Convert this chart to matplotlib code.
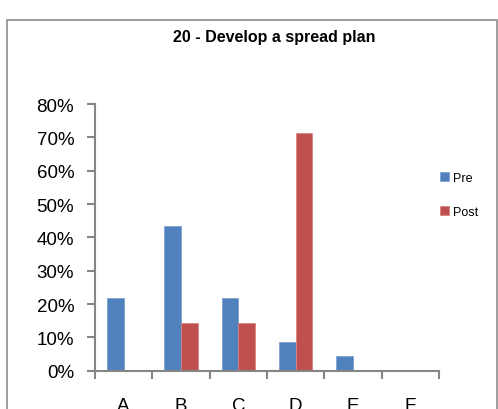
import matplotlib
matplotlib.use("Agg")
import matplotlib.pyplot as plt
from matplotlib.patches import Rectangle
from matplotlib.ticker import FuncFormatter
import numpy as np

categories = ["A", "B", "C", "D", "E", "F"]
pre = [0.217, 0.435, 0.217, 0.087, 0.043, 0.0]
post = [0.0, 0.143, 0.143, 0.714, 0.0, 0.0]
y_ticks = [0.0, 0.1, 0.2, 0.3, 0.4, 0.5, 0.6, 0.7, 0.8]
title = "20 - Develop a spread plan"

plt.rcParams["font.family"] = ["Liberation Sans", "DejaVu Sans"]

W, H = 498, 410
fig = plt.figure(figsize=(W / 100, H / 100), dpi=100)
fig.patch.set_facecolor("white")

# outer chart border
fig.patches.append(Rectangle((7 / W, -0.1), (497 - 7) / W, (H - 21) / H + 0.1,
                             transform=fig.transFigure, fill=False,
                             edgecolor="#8c8c8c", linewidth=1.2, clip_on=False))

ax = fig.add_axes([95 / W, (H - 371.7) / H, (439 - 95) / W, (371.7 - 105) / H])

x = np.arange(len(categories))
bw = 0.29
blue = "#4F81BD"
red = "#C0504D"
ax.bar(x - bw / 2, pre, width=bw, color=blue, edgecolor="#7fa3d0", linewidth=0.6, label="Pre")
ax.bar(x + bw / 2, post, width=bw, color=red, edgecolor="#d98583", linewidth=0.6, label="Post")

ax.set_xlim(-0.5, len(categories) - 0.5)
ax.set_ylim(0, 0.8)
ax.set_yticks(y_ticks)
ax.yaxis.set_major_formatter(FuncFormatter(lambda v, p: f"{v * 100:.0f}%"))
ax.set_xticks(np.arange(len(categories) + 1) - 0.5)
ax.set_xticklabels([])
ax.set_xticks(x, minor=True)
ax.set_xticklabels(categories, minor=True)

axis_color = "#868686"
for side in ["top", "right"]:
    ax.spines[side].set_visible(False)
for side in ["left", "bottom"]:
    ax.spines[side].set_color(axis_color)
    ax.spines[side].set_linewidth(1.5)

ax.tick_params(axis="y", which="major", direction="out", length=6, width=1.5,
               color=axis_color, labelsize=13.5, pad=9)
ax.tick_params(axis="x", which="major", direction="out", length=5.5, width=1.5,
               color=axis_color)
ax.tick_params(axis="x", which="minor", length=0, labelsize=13.5, pad=19)

fig.text(274.5 / W, 1 - 37.7 / H, title, ha="center", va="center",
         fontsize=11.5, fontweight="bold")

leg = ax.legend(loc="upper left", bbox_to_anchor=(440 / W, 1 - 173 / H),
                bbox_transform=fig.transFigure, frameon=False, fontsize=9,
                handlelength=0.75, handleheight=0.75, handletextpad=0.3,
                labelspacing=1.75, borderaxespad=0, borderpad=0)

fig.savefig("out.png", dpi=100, facecolor="white")
